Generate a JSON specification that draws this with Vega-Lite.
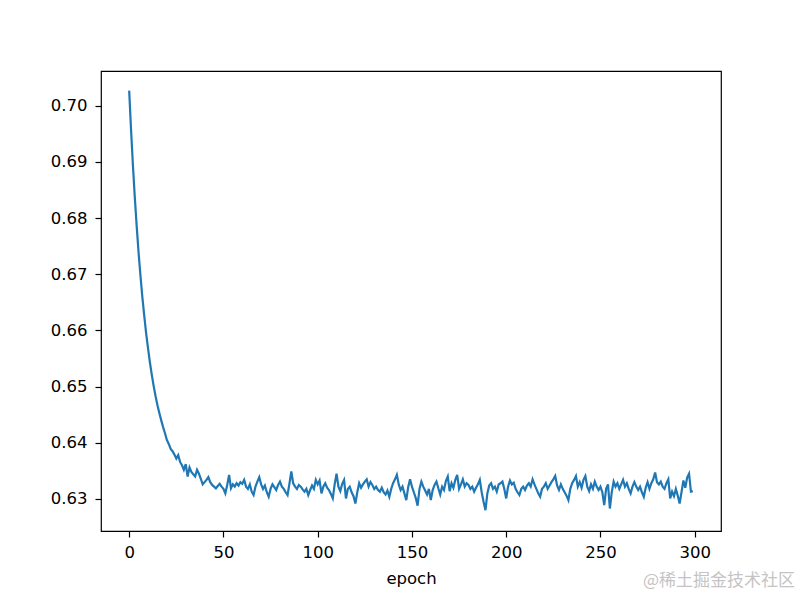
{
  "$schema": "https://vega.github.io/schema/vega-lite/v6.json",
  "autosize": {"type": "none"},
  "padding": {"left": 101, "top": 71, "right": 79, "bottom": 66},
  "width": 620,
  "height": 460,
  "background": "white",
  "config": {
    "view": {"stroke": "black", "strokeWidth": 1.2},
    "font": "DejaVu Sans",
    "axis": {
      "grid": false,
      "domain": false,
      "tickColor": "black",
      "tickWidth": 1.2,
      "tickSize": 6,
      "labelFont": "DejaVu Sans",
      "labelFontSize": 16.5,
      "labelColor": "black",
      "titleFont": "DejaVu Sans",
      "titleFontSize": 16.5,
      "titleFontWeight": "normal",
      "titleColor": "black"
    }
  },
  "title": {
    "text": "@稀土掘金技术社区",
    "orient": "bottom",
    "anchor": "end",
    "frame": "group",
    "font": "Noto Sans CJK SC",
    "fontSize": 17,
    "fontWeight": "normal",
    "color": "#c4c4c4",
    "offset": -14,
    "dx": 74
  },
  "data": {"values": [
    {"epoch":0,"loss":0.7027},{"epoch":1,"loss":0.6957},{"epoch":2,"loss":0.6893},{"epoch":3,"loss":0.6836},{"epoch":4,"loss":0.6785},
    {"epoch":5,"loss":0.6738},{"epoch":6,"loss":0.6697},{"epoch":7,"loss":0.6659},{"epoch":8,"loss":0.6626},{"epoch":9,"loss":0.6595},
    {"epoch":10,"loss":0.6568},{"epoch":11,"loss":0.6543},{"epoch":12,"loss":0.6521},{"epoch":13,"loss":0.6501},{"epoch":14,"loss":0.6483},
    {"epoch":15,"loss":0.6467},{"epoch":16,"loss":0.6453},{"epoch":17,"loss":0.644},{"epoch":18,"loss":0.6428},{"epoch":19,"loss":0.6417},
    {"epoch":20,"loss":0.6405},{"epoch":21,"loss":0.6398},{"epoch":22,"loss":0.6389},{"epoch":23,"loss":0.6385},{"epoch":24,"loss":0.6379},
    {"epoch":25,"loss":0.6372},{"epoch":26,"loss":0.6378},{"epoch":27,"loss":0.6366},{"epoch":28,"loss":0.636},{"epoch":29,"loss":0.6352},
    {"epoch":30,"loss":0.6362},{"epoch":31,"loss":0.634},{"epoch":32,"loss":0.6356},{"epoch":33,"loss":0.6348},{"epoch":34,"loss":0.6344},
    {"epoch":35,"loss":0.634},{"epoch":36,"loss":0.6352},{"epoch":37,"loss":0.6345},{"epoch":38,"loss":0.6336},{"epoch":39,"loss":0.6326},
    {"epoch":40,"loss":0.633},{"epoch":41,"loss":0.6334},{"epoch":42,"loss":0.6339},{"epoch":43,"loss":0.633},{"epoch":44,"loss":0.6325},
    {"epoch":45,"loss":0.6322},{"epoch":46,"loss":0.6319},{"epoch":47,"loss":0.6323},{"epoch":48,"loss":0.6327},{"epoch":49,"loss":0.6322},
    {"epoch":50,"loss":0.6318},{"epoch":51,"loss":0.631},{"epoch":52,"loss":0.6325},{"epoch":53,"loss":0.6343},{"epoch":54,"loss":0.6319},
    {"epoch":55,"loss":0.6326},{"epoch":56,"loss":0.6322},{"epoch":57,"loss":0.6328},{"epoch":58,"loss":0.6324},{"epoch":59,"loss":0.633},
    {"epoch":60,"loss":0.6327},{"epoch":61,"loss":0.6334},{"epoch":62,"loss":0.6322},{"epoch":63,"loss":0.6318},{"epoch":64,"loss":0.6326},
    {"epoch":65,"loss":0.6313},{"epoch":66,"loss":0.6307},{"epoch":67,"loss":0.6322},{"epoch":68,"loss":0.6331},{"epoch":69,"loss":0.6339},
    {"epoch":70,"loss":0.6326},{"epoch":71,"loss":0.6318},{"epoch":72,"loss":0.6324},{"epoch":73,"loss":0.6312},{"epoch":74,"loss":0.6304},
    {"epoch":75,"loss":0.6318},{"epoch":76,"loss":0.6326},{"epoch":77,"loss":0.6321},{"epoch":78,"loss":0.6316},{"epoch":79,"loss":0.6325},
    {"epoch":80,"loss":0.6331},{"epoch":81,"loss":0.6322},{"epoch":82,"loss":0.6318},{"epoch":83,"loss":0.6312},{"epoch":84,"loss":0.6307},
    {"epoch":85,"loss":0.6327},{"epoch":86,"loss":0.6349},{"epoch":87,"loss":0.6328},{"epoch":88,"loss":0.6322},{"epoch":89,"loss":0.6318},
    {"epoch":90,"loss":0.6325},{"epoch":91,"loss":0.6322},{"epoch":92,"loss":0.6317},{"epoch":93,"loss":0.6313},{"epoch":94,"loss":0.6318},
    {"epoch":95,"loss":0.6307},{"epoch":96,"loss":0.6316},{"epoch":97,"loss":0.6324},{"epoch":98,"loss":0.6318},{"epoch":99,"loss":0.6334},
    {"epoch":100,"loss":0.6326},{"epoch":101,"loss":0.6333},{"epoch":102,"loss":0.631},{"epoch":103,"loss":0.6322},{"epoch":104,"loss":0.6328},
    {"epoch":105,"loss":0.632},{"epoch":106,"loss":0.6316},{"epoch":107,"loss":0.6309},{"epoch":108,"loss":0.6301},{"epoch":109,"loss":0.6326},
    {"epoch":110,"loss":0.6345},{"epoch":111,"loss":0.6322},{"epoch":112,"loss":0.6314},{"epoch":113,"loss":0.6327},{"epoch":114,"loss":0.6334},
    {"epoch":115,"loss":0.6301},{"epoch":116,"loss":0.6318},{"epoch":117,"loss":0.6322},{"epoch":118,"loss":0.6312},{"epoch":119,"loss":0.6305},
    {"epoch":120,"loss":0.6292},{"epoch":121,"loss":0.6312},{"epoch":122,"loss":0.6328},{"epoch":123,"loss":0.632},{"epoch":124,"loss":0.6326},
    {"epoch":125,"loss":0.6331},{"epoch":126,"loss":0.6335},{"epoch":127,"loss":0.6322},{"epoch":128,"loss":0.633},{"epoch":129,"loss":0.6325},
    {"epoch":130,"loss":0.6318},{"epoch":131,"loss":0.6322},{"epoch":132,"loss":0.6316},{"epoch":133,"loss":0.6313},{"epoch":134,"loss":0.632},
    {"epoch":135,"loss":0.6312},{"epoch":136,"loss":0.6308},{"epoch":137,"loss":0.6315},{"epoch":138,"loss":0.6304},{"epoch":139,"loss":0.6318},
    {"epoch":140,"loss":0.6328},{"epoch":141,"loss":0.6335},{"epoch":142,"loss":0.6343},{"epoch":143,"loss":0.6326},{"epoch":144,"loss":0.6316},
    {"epoch":145,"loss":0.6322},{"epoch":146,"loss":0.631},{"epoch":147,"loss":0.6298},{"epoch":148,"loss":0.6321},{"epoch":149,"loss":0.6335},
    {"epoch":150,"loss":0.6322},{"epoch":151,"loss":0.6312},{"epoch":152,"loss":0.6302},{"epoch":153,"loss":0.6288},{"epoch":154,"loss":0.6318},
    {"epoch":155,"loss":0.6331},{"epoch":156,"loss":0.6322},{"epoch":157,"loss":0.6315},{"epoch":158,"loss":0.6308},{"epoch":159,"loss":0.6318},
    {"epoch":160,"loss":0.6298},{"epoch":161,"loss":0.6316},{"epoch":162,"loss":0.6325},{"epoch":163,"loss":0.6331},{"epoch":164,"loss":0.6319},
    {"epoch":165,"loss":0.6308},{"epoch":166,"loss":0.6322},{"epoch":167,"loss":0.6316},{"epoch":168,"loss":0.6332},{"epoch":169,"loss":0.634},
    {"epoch":170,"loss":0.6314},{"epoch":171,"loss":0.6328},{"epoch":172,"loss":0.632},{"epoch":173,"loss":0.6334},{"epoch":174,"loss":0.6343},
    {"epoch":175,"loss":0.6318},{"epoch":176,"loss":0.6326},{"epoch":177,"loss":0.6335},{"epoch":178,"loss":0.6322},{"epoch":179,"loss":0.6328},
    {"epoch":180,"loss":0.6325},{"epoch":181,"loss":0.6318},{"epoch":182,"loss":0.6322},{"epoch":183,"loss":0.6313},{"epoch":184,"loss":0.632},
    {"epoch":185,"loss":0.6326},{"epoch":186,"loss":0.6334},{"epoch":187,"loss":0.6312},{"epoch":188,"loss":0.6295},{"epoch":189,"loss":0.628},
    {"epoch":190,"loss":0.631},{"epoch":191,"loss":0.6324},{"epoch":192,"loss":0.6328},{"epoch":193,"loss":0.6318},{"epoch":194,"loss":0.6322},
    {"epoch":195,"loss":0.6313},{"epoch":196,"loss":0.6326},{"epoch":197,"loss":0.6328},{"epoch":198,"loss":0.6331},{"epoch":199,"loss":0.6318},
    {"epoch":200,"loss":0.6301},{"epoch":201,"loss":0.6322},{"epoch":202,"loss":0.6333},{"epoch":203,"loss":0.6326},{"epoch":204,"loss":0.6329},
    {"epoch":205,"loss":0.6318},{"epoch":206,"loss":0.6312},{"epoch":207,"loss":0.6307},{"epoch":208,"loss":0.6318},{"epoch":209,"loss":0.6322},
    {"epoch":210,"loss":0.6316},{"epoch":211,"loss":0.6324},{"epoch":212,"loss":0.6328},{"epoch":213,"loss":0.6322},{"epoch":214,"loss":0.6335},
    {"epoch":215,"loss":0.6326},{"epoch":216,"loss":0.6318},{"epoch":217,"loss":0.631},{"epoch":218,"loss":0.6304},{"epoch":219,"loss":0.6318},
    {"epoch":220,"loss":0.6322},{"epoch":221,"loss":0.6328},{"epoch":222,"loss":0.6318},{"epoch":223,"loss":0.6324},{"epoch":224,"loss":0.633},
    {"epoch":225,"loss":0.6335},{"epoch":226,"loss":0.6341},{"epoch":227,"loss":0.6324},{"epoch":228,"loss":0.6316},{"epoch":229,"loss":0.6326},
    {"epoch":230,"loss":0.6318},{"epoch":231,"loss":0.6312},{"epoch":232,"loss":0.6306},{"epoch":233,"loss":0.6298},{"epoch":234,"loss":0.6318},
    {"epoch":235,"loss":0.6328},{"epoch":236,"loss":0.6334},{"epoch":237,"loss":0.6341},{"epoch":238,"loss":0.6322},{"epoch":239,"loss":0.633},
    {"epoch":240,"loss":0.632},{"epoch":241,"loss":0.6334},{"epoch":242,"loss":0.6341},{"epoch":243,"loss":0.6322},{"epoch":244,"loss":0.6314},
    {"epoch":245,"loss":0.6326},{"epoch":246,"loss":0.6318},{"epoch":247,"loss":0.6331},{"epoch":248,"loss":0.6322},{"epoch":249,"loss":0.6316},
    {"epoch":250,"loss":0.6322},{"epoch":251,"loss":0.6312},{"epoch":252,"loss":0.6289},{"epoch":253,"loss":0.6318},{"epoch":254,"loss":0.6326},
    {"epoch":255,"loss":0.6283},{"epoch":256,"loss":0.6312},{"epoch":257,"loss":0.6331},{"epoch":258,"loss":0.6322},{"epoch":259,"loss":0.6328},
    {"epoch":260,"loss":0.6318},{"epoch":261,"loss":0.6326},{"epoch":262,"loss":0.6334},{"epoch":263,"loss":0.6322},{"epoch":264,"loss":0.6328},
    {"epoch":265,"loss":0.6318},{"epoch":266,"loss":0.631},{"epoch":267,"loss":0.6322},{"epoch":268,"loss":0.633},{"epoch":269,"loss":0.6322},
    {"epoch":270,"loss":0.6316},{"epoch":271,"loss":0.6322},{"epoch":272,"loss":0.6312},{"epoch":273,"loss":0.6304},{"epoch":274,"loss":0.632},
    {"epoch":275,"loss":0.633},{"epoch":276,"loss":0.6318},{"epoch":277,"loss":0.6328},{"epoch":278,"loss":0.6335},{"epoch":279,"loss":0.6347},
    {"epoch":280,"loss":0.633},{"epoch":281,"loss":0.6326},{"epoch":282,"loss":0.6331},{"epoch":283,"loss":0.6322},{"epoch":284,"loss":0.6318},
    {"epoch":285,"loss":0.6328},{"epoch":286,"loss":0.6335},{"epoch":287,"loss":0.6301},{"epoch":288,"loss":0.6313},{"epoch":289,"loss":0.6305},
    {"epoch":290,"loss":0.6318},{"epoch":291,"loss":0.6306},{"epoch":292,"loss":0.6292},{"epoch":293,"loss":0.6312},{"epoch":294,"loss":0.6333},
    {"epoch":295,"loss":0.632},{"epoch":296,"loss":0.6338},{"epoch":297,"loss":0.6345},{"epoch":298,"loss":0.6313},{"epoch":299,"loss":0.6314}
  ]},
  "mark": {"type": "line", "color": "#1f77b4", "strokeWidth": 2.2, "clip": true},
  "encoding": {
    "x": {
      "field": "epoch",
      "type": "quantitative",
      "scale": {"domain": [-14.95, 313.95], "nice": false, "zero": false},
      "axis": {"values": [0, 50, 100, 150, 200, 250, 300], "title": "epoch", "labelPadding": 7, "titlePadding": 10, "format": "d"}
    },
    "y": {
      "field": "loss",
      "type": "quantitative",
      "scale": {"domain": [0.6243, 0.7062], "nice": false, "zero": false},
      "axis": {"values": [0.63, 0.64, 0.65, 0.66, 0.67, 0.68, 0.69, 0.7], "format": ".2f", "title": null, "labelPadding": 8}
    }
  }
}
